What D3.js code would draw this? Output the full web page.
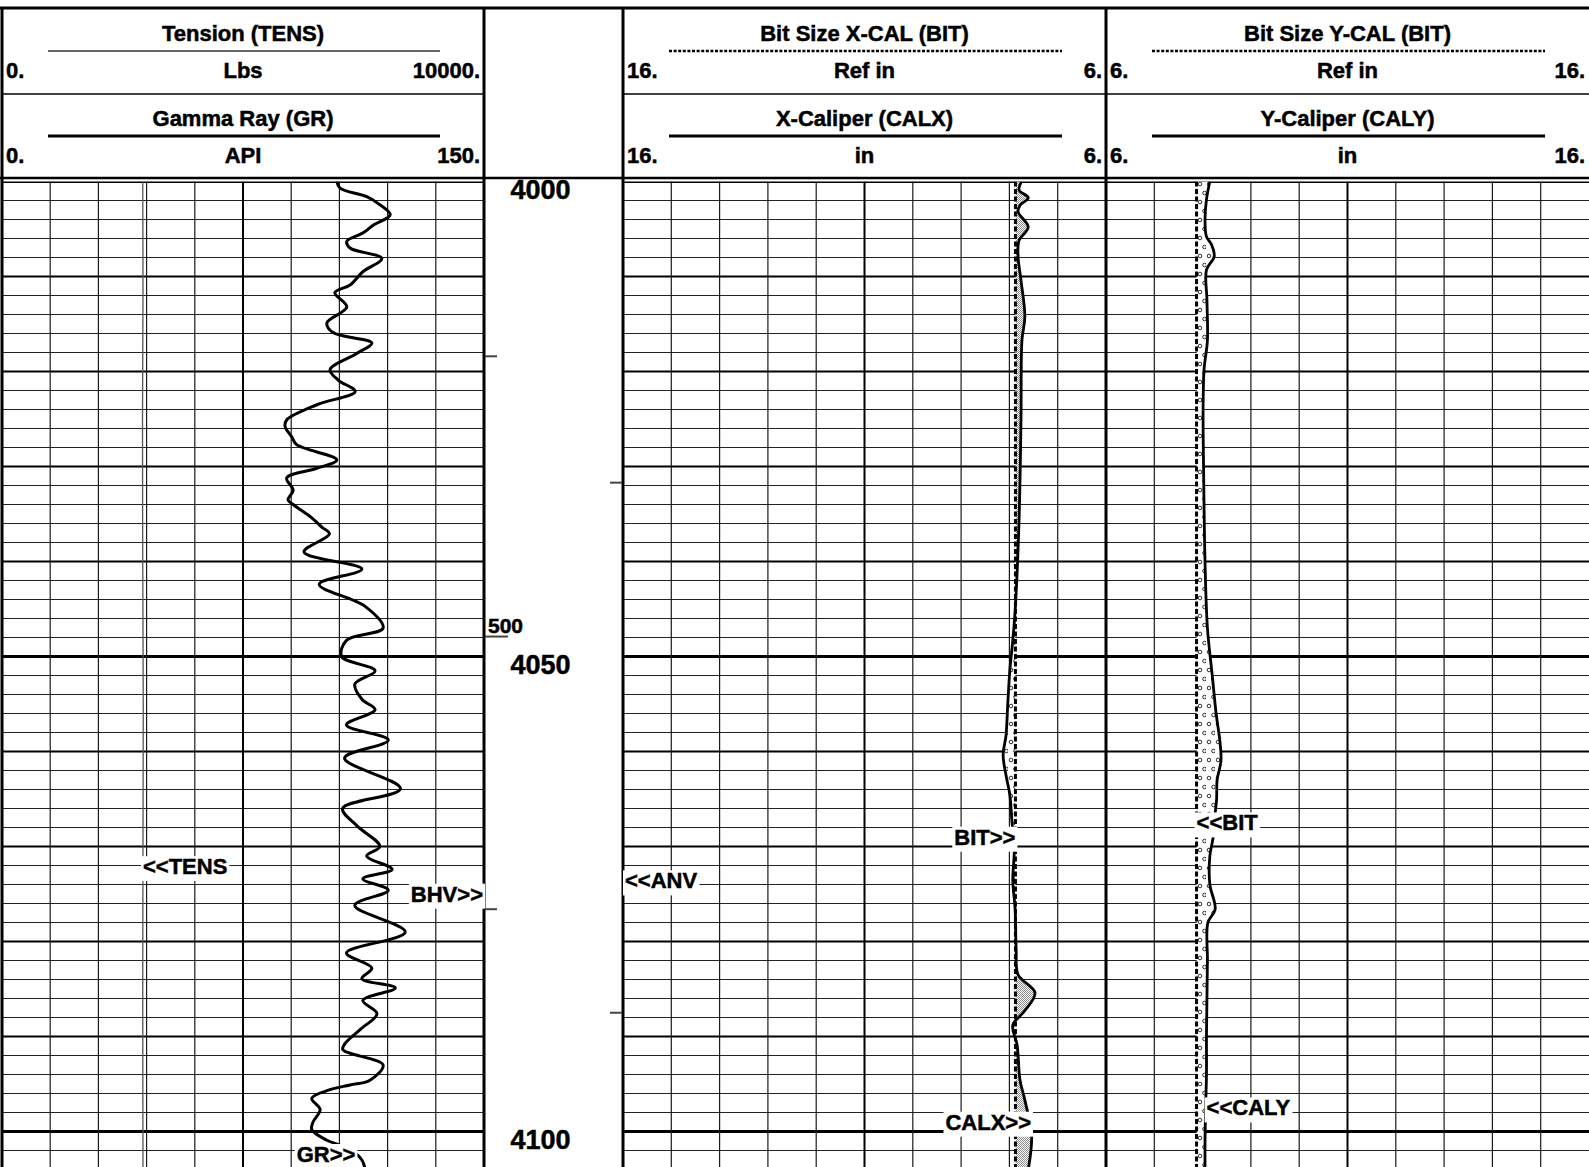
<!DOCTYPE html>
<html><head><meta charset="utf-8">
<script src="https://cdn.jsdelivr.net/npm/d3@7"></script>
<style>
html,body{margin:0;padding:0;background:#fff;}
svg{display:block;}
text{font-family:"Liberation Sans",Arial,sans-serif;font-weight:bold;fill:#000;stroke:#000;stroke-width:0.5px;}
</style></head><body>
<svg id="log" width="1589" height="1167"></svg>
<script>
// ---- Curve data (depth in ft) ----
const grDepth = [4000.0,4000.7,4001.6,4002.3,4003.5,4004.6,4005.4,4006.3,4007.0,4008.1,4009.5,4010.9,4011.7,4013.2,4014.9,4015.9,4017.0,4018.1,4019.8,4020.9,4022.1,4023.5,4025.1,4025.8,4026.9,4027.7,4029.3,4030.2,4031.2,4032.5,4033.5,4034.0,4035.4,4036.4,4037.1,4039.0,4040.8,4042.4,4044.7,4047.0,4048.3,4050.0,4051.5,4052.9,4054.5,4055.6,4057.2,4058.8,4060.7,4063.9,4066.0,4067.8,4070.0,4071.0,4072.4,4073.4,4074.6,4076.2,4079.0,4081.2,4082.8,4083.9,4084.9,4086.2,4087.6,4089.2,4090.8,4091.4,4093.0,4094.6,4095.1,4095.6,4096.5,4097.7,4099.0,4099.8,4100.9,4101.9,4103.0,4104.0];
const grValue = [104.2,105.2,113.5,117.0,120.8,115.5,112.4,107.3,108.3,118.2,112.3,108.3,103.6,107.3,101.1,103.0,115.1,110.4,102.1,104.6,109.9,98.0,88.6,88.1,90.2,91.7,104.2,97.9,88.6,90.6,89.0,90.6,96.4,99.6,101.9,94.0,112.0,98.7,112.9,118.6,107.2,105.7,116.1,109.8,112.0,116.1,107.2,120.2,106.6,124.0,106.0,110.4,117.6,113.5,121.4,112.3,120.2,109.8,125.5,107.2,115.1,112.0,122.4,112.3,116.7,111.7,106.6,106.1,118.6,114.5,108.3,102.1,96.4,99.0,96.8,96.4,101.0,108.3,112.0,113.0];

const tensDepth = [4000,4012,4025,4040,4055,4070,4085,4104];
const tensValue = [2920,2925,2915,2920,2930,2925,2920,2925];

const bitDepth = [4000,4104];
const bitValue = [7.875,7.875];

const calxDepth = [4000.0,4000.9,4001.7,4002.5,4003.2,4004.8,4006.2,4007.9,4010.4,4014.2,4016.7,4025.1,4035.6,4045.1,4048.3,4051.4,4054.6,4058.3,4060.4,4062.5,4064.6,4067.2,4070.4,4073.5,4076.7,4080.9,4083.5,4085.4,4087.4,4088.8,4090.9,4094.6,4096.7,4100.4,4104.0];
const calxValue = [7.75,7.80,7.61,7.78,7.82,7.61,7.80,7.82,7.76,7.68,7.74,7.76,7.80,7.88,7.93,7.99,8.03,8.07,8.13,8.07,7.99,7.95,7.90,7.93,7.88,7.86,7.82,7.47,7.70,7.93,7.84,7.78,7.68,7.54,7.61];

const calyDepth = [4000.0,4001.9,4004.1,4005.8,4006.7,4007.9,4009.3,4012.5,4016.7,4019.8,4024.1,4030,4040,4047,4052,4056,4059,4061,4063,4065,4067,4069,4071,4074,4076.6,4078,4082,4086,4090,4094,4098,4101,4104];
const calyValue = [8.15,8.08,8.05,8.08,8.19,8.24,8.08,8.09,8.10,8.03,8.01,8.02,8.05,8.10,8.20,8.28,8.36,8.38,8.30,8.29,8.25,8.22,8.15,8.15,8.26,8.11,8.10,8.09,8.08,8.08,8.06,8.05,8.05];

// ---- Depth annotations ----
const depthLabels = [4000, 4050, 4100];
const leftTickDepths = [4018.4, 4047.9, 4076.6];
const leftTickNotes = ["", "500", ""];
const rightTickDepths = [4031.7, 4087.5];

// ---- Header text ----
const headerTitles = [["Tension (TENS)","Gamma Ray (GR)"],["Bit Size X-CAL (BIT)","X-Caliper (CALX)"],["Bit Size Y-CAL (BIT)","Y-Caliper (CALY)"]];
const headerUnits  = [["Lbs","API"],["Ref in","in"],["Ref in","in"]];
const headerLeft   = [["0.","0."],["16.","16."],["6.","6."]];
const headerRight  = [["10000.","150."],["6.","6."],["16.","16."]];

// ---- Layout ----
const W = 1589, H = 1167;
const tracks = [[2,484],[623,1106],[1106,1589]];
const depthCol = [484,623];
const y = d3.scaleLinear().domain([4000,4050]).range([181.5,656.5]);
const depthEnd = y.invert(H);

const grX   = d3.scaleLinear().domain([0,150]).range(tracks[0]);
const tensX = d3.scaleLinear().domain([0,10000]).range(tracks[0]);
const cxX   = d3.scaleLinear().domain([16,6]).range(tracks[1]);
const cyX   = d3.scaleLinear().domain([6,16]).range(tracks[2]);

const zip = (a,b) => a.map((d,i)=>({d:d, v:b[i]}));
const gr = zip(grDepth, grValue);
const tens = zip(tensDepth, tensValue);
const calx = zip(calxDepth, calxValue);
const caly = zip(calyDepth, calyValue);
const bit = bitValue[0];

const svg = d3.select("#log");
const defs = svg.append("defs");

// stipple for undergauge hole, small circles for enlarged hole
const stip = defs.append("pattern").attr("id","stip").attr("patternUnits","userSpaceOnUse").attr("width",2).attr("height",2);
stip.append("rect").attr("width",2).attr("height",2).attr("fill","#fff");
stip.append("rect").attr("x",0).attr("y",0).attr("width",1).attr("height",1).attr("fill","#8a8a8a");
stip.append("rect").attr("x",1).attr("y",1).attr("width",1).attr("height",1).attr("fill","#8a8a8a");

const circ = defs.append("pattern").attr("id","circ").attr("patternUnits","userSpaceOnUse").attr("width",9).attr("height",18);
circ.append("rect").attr("width",9).attr("height",18).attr("fill","#fff");
circ.append("circle").attr("cx",3).attr("cy",4).attr("r",1.8).attr("fill","none").attr("stroke","#000").attr("stroke-width",0.8);
circ.append("circle").attr("cx",7.5).attr("cy",13).attr("r",1.8).attr("fill","none").attr("stroke","#000").attr("stroke-width",0.8);

defs.append("clipPath").attr("id","plot").append("rect").attr("x",0).attr("y",y(4000)).attr("width",W).attr("height",H-y(4000));
defs.append("clipPath").attr("id","xWash").append("rect").attr("x",tracks[1][0]).attr("y",0).attr("width",cxX(bit)-tracks[1][0]).attr("height",H);
defs.append("clipPath").attr("id","xUnder").append("rect").attr("x",cxX(bit)).attr("y",0).attr("width",tracks[1][1]-cxX(bit)).attr("height",H);
defs.append("clipPath").attr("id","yWash").append("rect").attr("x",cyX(bit)).attr("y",0).attr("width",tracks[2][1]-cyX(bit)).attr("height",H);
defs.append("clipPath").attr("id","yUnder").append("rect").attr("x",tracks[2][0]).attr("y",0).attr("width",cyX(bit)-tracks[2][0]).attr("height",H);

svg.append("rect").attr("width",W).attr("height",H).attr("fill","#fff");

// ---- Grid ----
const grid = svg.append("g").attr("clip-path","url(#plot)");
const hDepths = d3.range(4000, depthEnd, 2);
tracks.forEach(([x0,x1]) => {
  grid.selectAll(null).data(hDepths).join("line")
    .attr("x1",x0).attr("x2",x1)
    .attr("y1",d=>y(d)).attr("y2",d=>y(d))
    .attr("stroke",d=> d%10===0 ? "#000" : "#222")
    .attr("stroke-width",d=> d%50===0 ? 3 : (d%10===0 ? 2 : 1.1));
});
[[grX, d3.range(0,151,15)],[cxX, d3.range(6,17,1)],[cyX, d3.range(6,17,1)]].forEach(([sc,vals]) => {
  grid.selectAll(null).data(vals.slice(1,-1)).join("line")
    .attr("x1",d=>sc(d)).attr("x2",d=>sc(d))
    .attr("y1",y(4000)).attr("y2",H)
    .attr("stroke",(d,i)=> i===4 ? "#000" : "#1a1a1a")
    .attr("stroke-width",(d,i)=> i===4 ? 2 : 1.2);
});

// ---- Hole fills ----
const fills = svg.append("g").attr("clip-path","url(#plot)");
const areaX = d3.area().curve(d3.curveCatmullRom).y(d=>y(d.d)).x0(cxX(bit)).x1(d=>cxX(d.v));
const areaY = d3.area().curve(d3.curveCatmullRom).y(d=>y(d.d)).x0(cyX(bit)).x1(d=>cyX(d.v));
fills.append("g").attr("clip-path","url(#xWash)").append("path").datum(calx).attr("d",areaX).attr("fill","url(#circ)");
fills.append("g").attr("clip-path","url(#xUnder)").append("path").datum(calx).attr("d",areaX).attr("fill","url(#stip)");
fills.append("g").attr("clip-path","url(#yWash)").append("path").datum(caly).attr("d",areaY).attr("fill","url(#circ)");
fills.append("g").attr("clip-path","url(#yUnder)").append("path").datum(caly).attr("d",areaY).attr("fill","url(#stip)");

// ---- Curves ----
const curves = svg.append("g").attr("clip-path","url(#plot)");
const bitPts = zip(bitDepth, bitValue);
curves.append("path").datum(bitPts)
  .attr("d", d3.line().x(d=>cxX(d.v)).y(d=>y(d.d)))
  .attr("fill","none").attr("stroke","#000").attr("stroke-width",3).attr("stroke-dasharray","5,2.5");
curves.append("path").datum(bitPts)
  .attr("d", d3.line().x(d=>cyX(d.v)).y(d=>y(d.d)))
  .attr("fill","none").attr("stroke","#000").attr("stroke-width",3).attr("stroke-dasharray","5,2.5");
curves.append("path").datum(tens)
  .attr("d", d3.line().curve(d3.curveCatmullRom).x(d=>tensX(d.v)).y(d=>y(d.d)))
  .attr("fill","none").attr("stroke","#555").attr("stroke-width",1.3);
curves.append("path").datum(calx)
  .attr("d", d3.line().curve(d3.curveCatmullRom).x(d=>cxX(d.v)).y(d=>y(d.d)))
  .attr("fill","none").attr("stroke","#000").attr("stroke-width",2.8);
curves.append("path").datum(caly)
  .attr("d", d3.line().curve(d3.curveCatmullRom).x(d=>cyX(d.v)).y(d=>y(d.d)))
  .attr("fill","none").attr("stroke","#000").attr("stroke-width",2.8);
curves.append("path").datum(gr)
  .attr("d", d3.line().curve(d3.curveCatmullRom.alpha(0.5)).x(d=>grX(d.v)).y(d=>y(d.d)))
  .attr("fill","none").attr("stroke","#000").attr("stroke-width",3).attr("stroke-linejoin","round");

// ---- Frame ----
const frame = svg.append("g").attr("stroke","#000");
[2,484,623,1106].forEach(x => frame.append("line").attr("x1",x).attr("x2",x).attr("y1",8).attr("y2",H).attr("stroke-width",3));
frame.append("line").attr("x1",0).attr("x2",W).attr("y1",8).attr("y2",8).attr("stroke-width",3);
frame.append("line").attr("x1",0).attr("x2",W).attr("y1",178).attr("y2",178).attr("stroke-width",2.5);
tracks.forEach(([x0,x1]) => frame.append("line").attr("x1",x0).attr("x2",x1).attr("y1",94).attr("y2",94).attr("stroke-width",1.5));

// ---- Depth column ----
const dc = svg.append("g");
dc.selectAll(null).data(depthLabels).join("text")
  .attr("x",540.5).attr("y",d=>y(d)+17.5).attr("text-anchor","middle")
  .style("font-size","27px").text(d=>d);
dc.selectAll(null).data(leftTickDepths).join("line")
  .attr("x1",depthCol[0]+1).attr("x2",(d,i)=>depthCol[0] + (leftTickNotes[i] ? 24 : 13))
  .attr("y1",d=>y(d)).attr("y2",d=>y(d)).attr("stroke","#444").attr("stroke-width",2);
dc.selectAll(null).data(leftTickDepths).join("text")
  .attr("x",depthCol[0]+4).attr("y",d=>y(d)-4)
  .style("font-size","21px").text((d,i)=>leftTickNotes[i]);
dc.selectAll(null).data(rightTickDepths).join("line")
  .attr("x1",depthCol[1]-13).attr("x2",depthCol[1]-1)
  .attr("y1",d=>y(d)).attr("y2",d=>y(d)).attr("stroke","#444").attr("stroke-width",2);

// ---- Header ----
const hd = svg.append("g");
const titleBase = [41,126], scaleBase = [77.5,163], ruleY = [51,136];
tracks.forEach(([x0,x1],t) => {
  const cx = (x0+x1)/2;
  [0,1].forEach(r => {
    hd.append("text").attr("x",cx).attr("y",titleBase[r]).attr("text-anchor","middle").style("font-size","22px").text(headerTitles[t][r]);
    hd.append("text").attr("x",cx).attr("y",scaleBase[r]).attr("text-anchor","middle").style("font-size","22px").text(headerUnits[t][r]);
    hd.append("text").attr("x",x0+4).attr("y",scaleBase[r]).style("font-size","22px").text(headerLeft[t][r]);
    hd.append("text").attr("x",x1-4).attr("y",scaleBase[r]).attr("text-anchor","end").style("font-size","22px").text(headerRight[t][r]);
    const ln = hd.append("line").attr("x1",x0+46).attr("x2",x1-44).attr("y1",ruleY[r]).attr("y2",ruleY[r]).attr("stroke","#000");
    if (r===1) ln.attr("stroke-width",3);
    else if (t===0) ln.attr("stroke-width",1.4).attr("stroke","#333");
    else ln.attr("stroke-width",2.5).attr("stroke-dasharray","3,1.6");
  });
});

// ---- Curve name flags ----
const interp = (arr, dep) => {
  const i = d3.bisector(p=>p.d).left(arr, dep);
  if (i<=0) return arr[0].v;
  if (i>=arr.length) return arr[arr.length-1].v;
  const a = arr[i-1], b = arr[i];
  return a.v + (b.v-a.v)*(dep-a.d)/(b.d-a.d);
};
const flags = [
  {text:"<<TENS", depth:4072.1, x:tensX(interp(tens,4072.1)), anchor:"start"},
  {text:"BHV>>", depth:4075.0, x:tracks[0][1]-1, anchor:"end"},
  {text:"<<ANV", depth:4073.6, x:tracks[1][0]+2, anchor:"start"},
  {text:"BIT>>", depth:4069.0, x:cxX(bit), anchor:"end"},
  {text:"<<BIT", depth:4067.5, x:cyX(bit), anchor:"start"},
  {text:"CALX>>", depth:4099.0, x:cxX(interp(calx,4099.0))+2, anchor:"end"},
  {text:"<<CALY", depth:4097.5, x:cyX(interp(caly,4097.5))+1, anchor:"start"},
  {text:"GR>>", depth:4102.4, x:grX(interp(gr,4102.4)), anchor:"end"}
];
const fl = svg.append("g");
flags.forEach(f => {
  const g = fl.append("g");
  const r = g.append("rect").attr("fill","#fff").attr("stroke","none");
  const t = g.append("text").attr("x",f.x).attr("y",y(f.depth)).attr("dy","0.35em")
    .attr("text-anchor",f.anchor).style("font-size","22px").text(f.text);
  const b = t.node().getBBox();
  r.attr("x",b.x-2).attr("y",b.y+2).attr("width",b.width+4).attr("height",b.height);
});
</script>
</body></html>
